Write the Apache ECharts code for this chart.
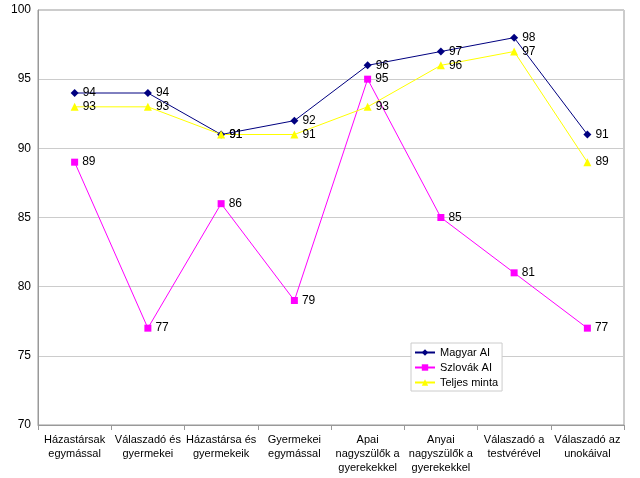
<!DOCTYPE html>
<html><head><meta charset="utf-8">
<script src="https://cdn.jsdelivr.net/npm/echarts@6/dist/echarts.min.js"></script>
<style>html,body{margin:0;padding:0;background:#fff}#c{width:640px;height:478px}</style>
</head><body><div id="c"></div>
<script>
var categories = ["Házastársak\negymással","Válaszadó és\ngyermekei","Házastársa és\ngyermekeik","Gyermekei\negymással","Apai\nnagyszülők a\ngyerekekkel","Anyai\nnagyszülők a\ngyerekekkel","Válaszadó a\ntestvérével","Válaszadó az\nunokáival"];
var magyar = [94,94,91,92,96,97,98,91];
var szlovak = [89,77,86,79,95,85,81,77];
var teljes = [93,93,91,91,93,96,97,89];
var seriesNames = ["Magyar AI","Szlovák AI","Teljes minta"];

var font = "Liberation Sans, Arial, sans-serif";
function mk(name, data, color, symbol, size){
  return {name:name,type:'line',data:data,symbol:symbol,symbolSize:size,
    itemStyle:{color:color},lineStyle:{color:color,width:1},
    label:{show:true,position:'right',distance:4,color:'#000',fontFamily:font,fontSize:12},
    animation:false};
}
var chart = echarts.init(document.getElementById('c'));
chart.setOption({
  animation:false,
  backgroundColor:'#fff',
  grid:{left:38,right:16,top:10,bottom:53,show:true,borderColor:'#999',borderWidth:1},
  legend:{orient:'vertical',left:411,top:343,padding:[4,4,3,3],itemGap:4,itemWidth:20,itemHeight:8,
    borderColor:'#ccc',borderWidth:1,backgroundColor:'#fff',
    textStyle:{fontFamily:font,fontSize:11,color:'#000'},
    data:seriesNames},
  xAxis:{type:'category',data:categories,boundaryGap:true,
    axisLine:{lineStyle:{color:'#999'}},
    axisTick:{show:true,alignWithLabel:false,lineStyle:{color:'#999'},length:5},
    axisLabel:{interval:0,color:'#000',fontFamily:font,fontSize:11,lineHeight:14,margin:8}},
  yAxis:{type:'value',min:70,max:100,interval:5,
    axisLine:{show:true,lineStyle:{color:'#999'}},
    axisTick:{show:false},
    splitLine:{lineStyle:{color:'#ccc'}},
    axisLabel:{color:'#000',fontFamily:font,fontSize:12,margin:7}},
  series:[
    mk(seriesNames[0],magyar,'#000080','diamond',8),
    mk(seriesNames[1],szlovak,'#FF00FF','rect',7),
    mk(seriesNames[2],teljes,'#FFFF00','triangle',8)
  ]
});
</script></body></html>
